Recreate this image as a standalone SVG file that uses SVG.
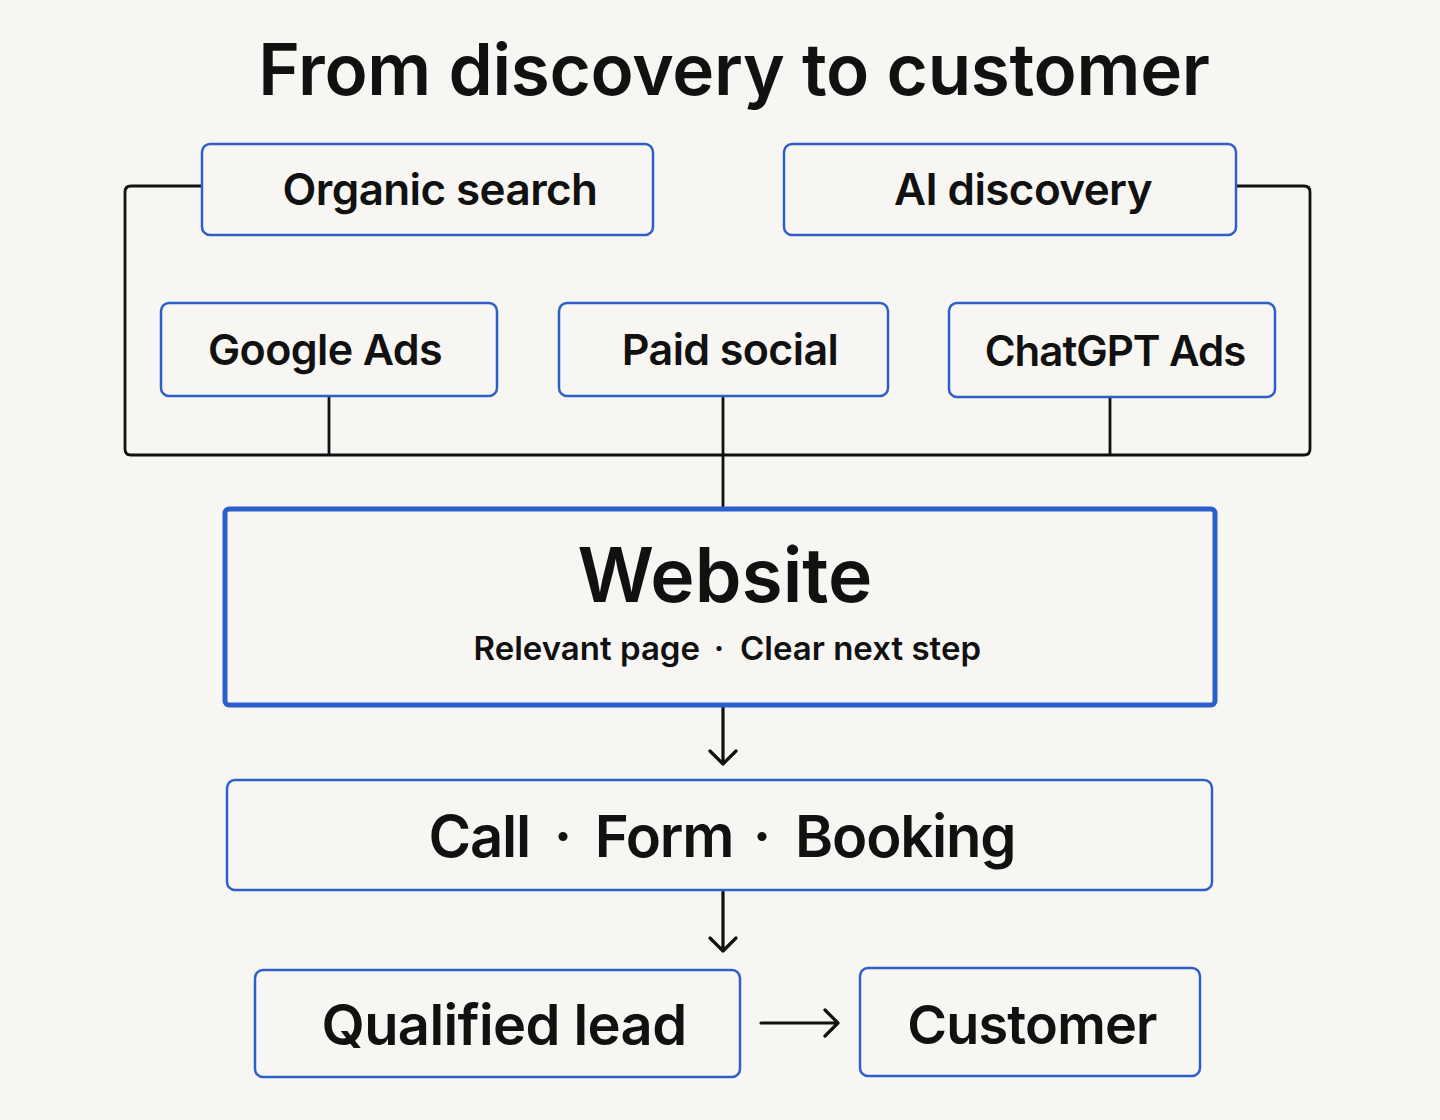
<svg xmlns="http://www.w3.org/2000/svg" width="1440" height="1120" viewBox="0 0 1440 1120">
<defs>
<style>
.bg{fill:#f8f6f3}
.box{fill:#f8f6f3;stroke:#2e5fc9;stroke-width:2.5}
.main{fill:#f8f6f3;stroke:#2b5fce;stroke-width:5}
.t{font-family:Inter,"Liberation Sans",sans-serif;fill:#111;text-anchor:middle;font-weight:600}
.s{letter-spacing:-0.6px}
.c{letter-spacing:-1.2px}
.line{fill:none;stroke:#111;stroke-width:2.8;stroke-linejoin:round}
.arrow{fill:none;stroke:#111;stroke-width:3.2;stroke-linecap:round;stroke-linejoin:round}
</style>
</defs>
<rect class="bg" x="0" y="0" width="1440" height="1120"/>
<text class="t" x="734" y="95" font-size="71" font-weight="700" letter-spacing="-0.3">From discovery to customer</text>
<g id="connectors">
<path class="line" d="M202 186 H131 Q125 186 125 192 V449 Q125 455 131 455 H1304 Q1310 455 1310 449 V192 Q1310 186 1304 186 H1236"/>
<path class="line" d="M329 396 V455"/>
<path class="line" d="M723 396 V508"/>
<path class="line" d="M1110 397 V455"/>
<path class="arrow" d="M723 707 V764 M710 751 L723 764 L736 751"/>
<path class="arrow" d="M723 892 V951 M710 938 L723 951 L736 938"/>
<path class="arrow" d="M761 1023 H838 M825 1010 L838 1023 L825 1036"/>
</g>
<g id="organic-search">
<rect class="box" x="202" y="144" width="451" height="91" rx="8"/>
<text class="t s" x="440" y="205" font-size="44">Organic search</text>
</g>
<g id="ai-discovery">
<rect class="box" x="784" y="144" width="452" height="91" rx="8"/>
<text class="t s" x="1023" y="205" font-size="44">AI discovery</text>
</g>
<g id="google-ads">
<rect class="box" x="161" y="303" width="336" height="93" rx="8"/>
<text class="t s" x="325" y="365" font-size="43">Google Ads</text>
</g>
<g id="paid-social">
<rect class="box" x="559" y="303" width="329" height="93" rx="8"/>
<text class="t s" x="730" y="365" font-size="43">Paid social</text>
</g>
<g id="chatgpt-ads">
<rect class="box" x="949" y="303" width="326" height="94" rx="8"/>
<text class="t" x="1115" y="366" font-size="42" letter-spacing="-1">ChatGPT Ads</text>
</g>
<g id="website">
<rect class="main" x="225" y="509" width="990" height="196" rx="4"/>
<text class="t" x="725" y="602" font-size="75" font-weight="700">Website</text>
<text class="t" x="700" y="660" font-size="33" font-weight="500" style="text-anchor:end">Relevant page</text>
<text class="t" x="719" y="660" font-size="33" font-weight="500">·</text>
<text class="t" x="740" y="660" font-size="33" font-weight="500" style="text-anchor:start">Clear next step</text>
</g>
<g id="call-form-booking">
<rect class="box" x="227" y="780" width="985" height="110" rx="8"/>
<text class="t c" x="530" y="857" font-size="58" font-weight="700" style="text-anchor:end">Call</text>
<text class="t" x="563" y="857" font-size="58" font-weight="700">·</text>
<text class="t c" x="664" y="857" font-size="58" font-weight="700">Form</text>
<text class="t" x="762" y="857" font-size="58" font-weight="700">·</text>
<text class="t c" x="795" y="857" font-size="58" font-weight="700" style="text-anchor:start">Booking</text>
</g>
<g id="qualified-lead">
<rect class="box" x="255" y="970" width="485" height="107" rx="8"/>
<text class="t" x="504" y="1045" font-size="56" font-weight="700" letter-spacing="-0.6">Qualified lead</text>
</g>
<g id="customer">
<rect class="box" x="860" y="968" width="340" height="108" rx="8"/>
<text class="t" x="1032" y="1044" font-size="54" font-weight="700" letter-spacing="-0.8">Customer</text>
</g>
</svg>
